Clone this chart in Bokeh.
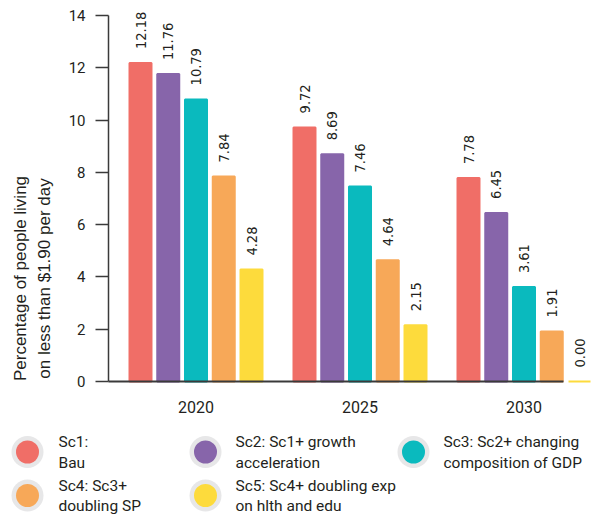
import math
from bokeh.plotting import figure
from bokeh.models import ColumnDataSource, Range1d, FixedTicker
from bokeh.core.properties import value
from bokeh.embed import file_html
from bokeh.resources import INLINE

# ---------------- data ----------------
years = ["2020", "2025", "2030"]
sc1 = [12.18, 9.72, 7.78]
sc2 = [11.76, 8.69, 6.45]
sc3 = [10.79, 7.46, 3.61]
sc4 = [7.84, 4.64, 1.91]
sc5 = [4.28, 2.15, 0.00]
series = [sc1, sc2, sc3, sc4, sc5]
legend_labels = [
    "Sc1:\nBau",
    "Sc2: Sc1+ growth\nacceleration",
    "Sc3: Sc2+ changing\ncomposition of GDP",
    "Sc4: Sc3+\ndoubling SP",
    "Sc5: Sc4+ doubling exp\non hlth and edu",
]
colors = ["#F06E67", "#8765AA", "#0ABABE", "#F7A858", "#FDDB3C"]
y_ticks = [0, 2, 4, 6, 8, 10, 12, 14]
y_title = ["Percentage of people living", "on less than $1.90 per day"]

# ---------------- layout (canvas pixels) ----------------
W, H = 593, 514
PX_Y = 366 / 14          # pixels per y unit
BASE_PY = 381            # pixel row of y = 0
PX_X = 164               # pixels per group
G0_PX = 195.5            # pixel column of first group centre
AXIS_PX = 108            # pixel column of the y axis
STEP_PX, BARW_PX = 27.75, 22


def px2x(px):
    return (px - G0_PX) / PX_X


def py2y(py):
    return (BASE_PY - py) / PX_Y


TXT = "#231F20"
AXC = "#3A3A3A"

p = figure(width=W, height=H, output_backend="svg", toolbar_location=None,
           x_range=Range1d(px2x(0), px2x(W)), y_range=Range1d(py2y(H), py2y(0)),
           min_border=0)
p.outline_line_color = None
p.xgrid.visible = False
p.ygrid.visible = False

STEP = STEP_PX / PX_X
xs, tops, cols, labs = [], [], [], []
for i, s in enumerate(series):
    for g, v in enumerate(s):
        xs.append(g + (i - 2) * STEP)
        tops.append(v)
        cols.append(colors[i])
        labs.append(f"{v:.2f}")
src = ColumnDataSource(dict(x=xs, top=tops, color=cols, label=labs))

p.vbar(x="x", top="top", bottom=0, width=BARW_PX / PX_X, source=src,
       fill_color="color", line_color="color", line_width=2)

p.text(x="x", y="top", text="label", source=src, angle=math.pi / 2,
       text_align="left", text_baseline="middle", y_offset=-14,
       text_font=value("DejaVu Sans Condensed"), text_font_size="14.5px", text_color=TXT)

# ---------------- axes ----------------
axis_x0 = px2x(AXIS_PX)
last_edge = (len(years) - 1) + 1 * STEP + (BARW_PX / 2 + 1) / PX_X

xa = p.xaxis[0]
xa.fixed_location = 0
xa.bounds = (axis_x0, last_edge)
xa.ticker = FixedTicker(ticks=list(range(len(years))))
xa.major_label_overrides = {i: y for i, y in enumerate(years)}
xa.axis_line_color = AXC
xa.axis_line_width = 2
xa.major_tick_line_color = None
xa.minor_tick_line_color = None
xa.major_label_standoff = 13
xa.major_label_text_font = "Roboto"
xa.major_label_text_font_size = "16px"
xa.major_label_text_color = TXT

ya = p.yaxis[0]
ya.fixed_location = axis_x0
ya.bounds = (0, 14)
ya.ticker = FixedTicker(ticks=y_ticks)
ya.axis_line_color = AXC
ya.axis_line_width = 1.5
ya.major_tick_line_color = AXC
ya.major_tick_line_width = 1.5
ya.major_tick_in = 0
ya.major_tick_out = 13
ya.minor_tick_line_color = None
ya.major_label_standoff = 10
ya.major_label_text_font = "Roboto"
ya.major_label_text_font_size = "15px"
ya.major_label_text_color = TXT

# y-axis title (two rotated lines)
p.text(x=[px2x(20), px2x(44)], y=[py2y(278), py2y(278)], text=y_title,
       angle=math.pi / 2, text_align="center", text_baseline="middle",
       text_font=value("Liberation Sans"), text_font_size="17px", text_color=TXT)

# ---------------- legend ----------------
col_circle = [27, 205, 413]
col_text = [58, 235, 443]
row_circle = [451.5, 495]
row_line1 = [441, 485]
row_line2 = [462, 505]

cx, cy, cc, tx, ty, tt = [], [], [], [], [], []
for i, lab in enumerate(legend_labels):
    r, c = divmod(i, 3)
    cx.append(px2x(col_circle[c])); cy.append(py2y(row_circle[r])); cc.append(colors[i])
    l1, l2 = lab.split("\n")
    tx += [px2x(col_text[c])] * 2
    ty += [py2y(row_line1[r]), py2y(row_line2[r])]
    tt += [l1, l2]

p.scatter(x=cx, y=cy, size=32, marker="circle", fill_color="#E7E7E8", line_color=None)
p.scatter(x=cx, y=cy, size=23, marker="circle", fill_color=cc, line_color=None)
p.text(x=tx, y=ty, text=tt, text_align="left", text_baseline="middle",
       text_font=value("Roboto"), text_font_size="15.5px", text_color=TXT)

open("out.html", "w").write(file_html(p, INLINE))
